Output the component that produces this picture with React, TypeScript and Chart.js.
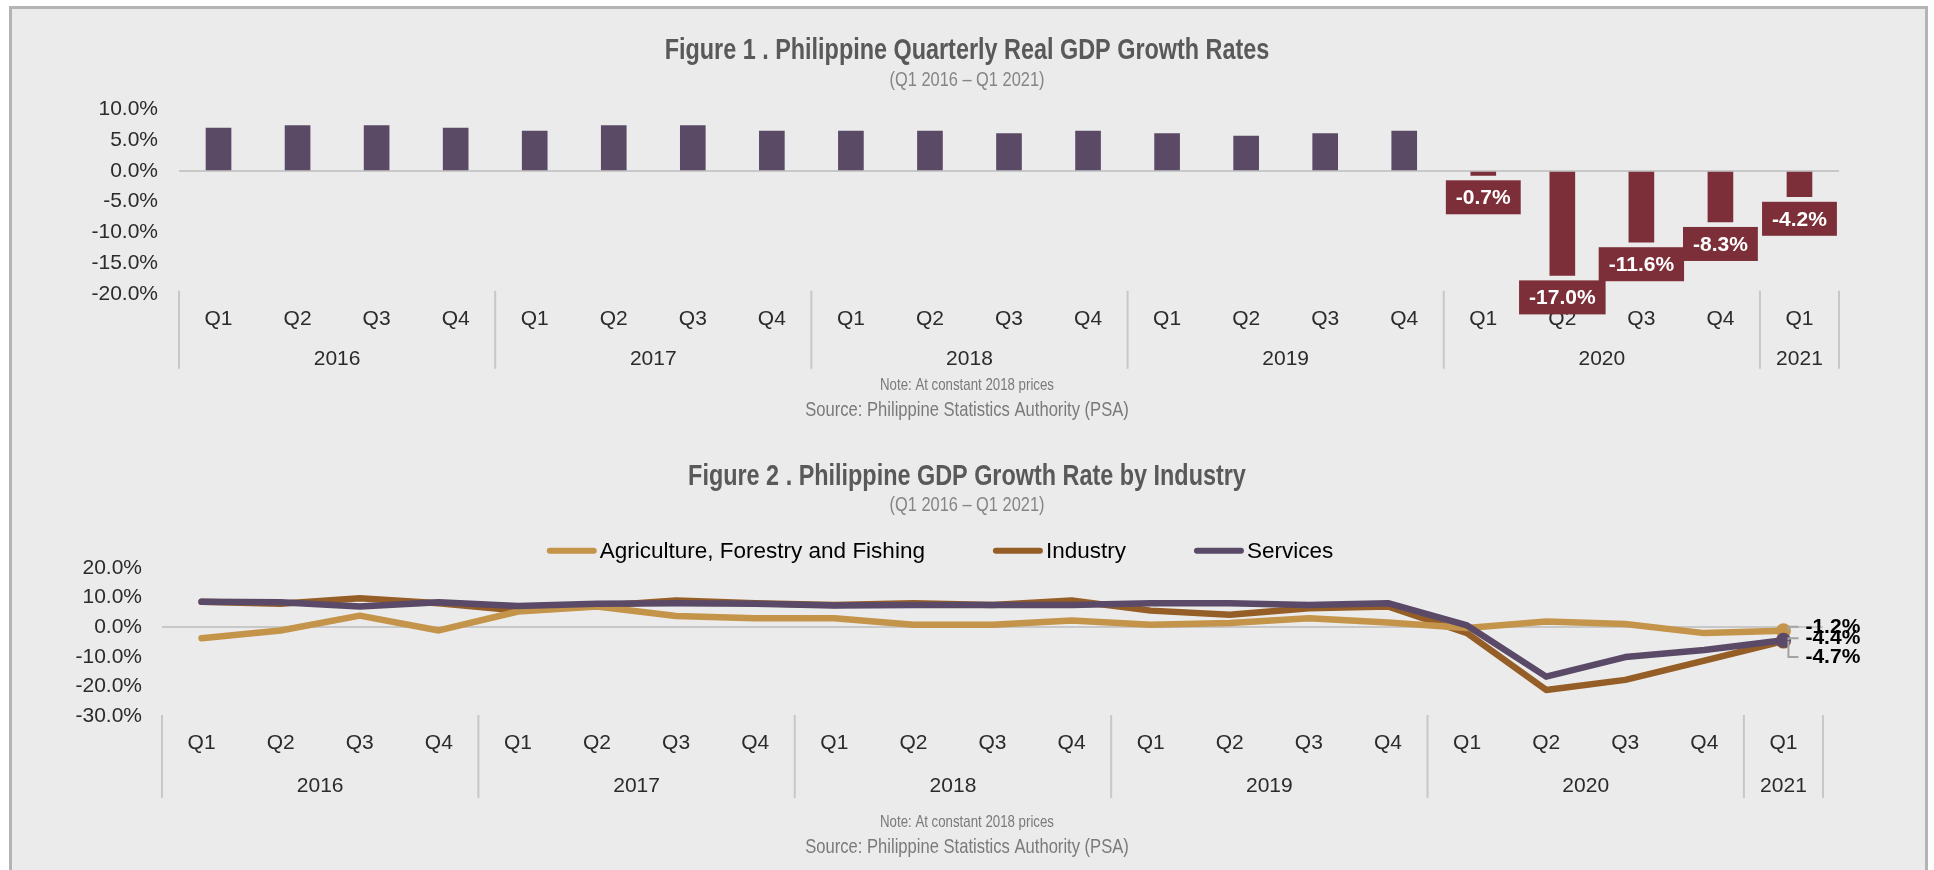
import React, { useEffect, useRef } from 'react';
import { Chart, registerables } from 'chart.js';

Chart.register(...registerables);

// ---------------- DATA ----------------
const quarterLabels = ['Q1', 'Q2', 'Q3', 'Q4', 'Q1', 'Q2', 'Q3', 'Q4', 'Q1', 'Q2', 'Q3', 'Q4', 'Q1', 'Q2', 'Q3', 'Q4', 'Q1', 'Q2', 'Q3', 'Q4', 'Q1'];
const quarterYears = ['2016', '2016', '2016', '2016', '2017', '2017', '2017', '2017', '2018', '2018', '2018', '2018', '2019', '2019', '2019', '2019', '2020', '2020', '2020', '2020', '2021'];

const gdpGrowth = [7.0, 7.4, 7.4, 7.0, 6.5, 7.4, 7.4, 6.5, 6.5, 6.5, 6.1, 6.5, 6.1, 5.7, 6.1, 6.5, -0.7, -17.0, -11.6, -8.3, -4.2];

const agricultureGrowth = [-3.7, -1.1, 3.9, -1.1, 5.3, 7.0, 3.8, 3.0, 3.0, 0.8, 0.8, 2.3, 0.8, 1.4, 3.0, 1.6, -0.3, 1.9, 1.1, -2.0, -1.2];
const industryGrowth = [8.6, 7.9, 9.8, 8.1, 5.6, 7.2, 9.0, 8.1, 7.5, 8.1, 7.5, 9.0, 5.6, 4.2, 6.4, 7.0, -2.0, -21.2, -17.8, -11.3, -4.7];
const servicesGrowth = [8.6, 8.4, 7.0, 8.4, 7.2, 7.9, 8.1, 7.9, 7.3, 7.5, 7.5, 7.5, 8.1, 8.1, 7.5, 8.1, 0.6, -16.7, -10.1, -7.7, -4.4];

const seriesNames = ['Agriculture, Forestry and Fishing', 'Industry', 'Services'];

const gdpAxis = { min: -20, max: 10, step: 5 };
const industryAxis = { min: -30, max: 20, step: 10 };

const fig1Title = 'Figure 1 . Philippine Quarterly Real GDP Growth Rates';
const fig2Title = 'Figure 2 . Philippine GDP Growth Rate by Industry';
const periodText = '(Q1 2016 \u2013 Q1 2021)';
const noteText = 'Note: At constant 2018 prices';
const sourceText = 'Source: Philippine Statistics Authority (PSA)';

// ---------------- STYLE ----------------
const SANS = "'Liberation Sans', Arial, sans-serif";
const POS = '#5a4a66';
const NEG = '#7c2f38';
const TAN = '#c4944a';
const BROWN = '#955e26';
const PURPLE = '#5a4a68';
const AXIS_TEXT = '#2b2b2b';
const GRAY_LINE = '#c8c8c8';
const AXIS_FONT = { family: SANS, size: 21 };

const pct = (v: number) => Number(v).toFixed(1) + '%';

// ---------------- PLUGINS ----------------
// Condensed headings / footnotes (no condensed font installed, so squeeze horizontally)
const textBlockPlugin = {
  id: 'textBlocks',
  afterDraw(chart: any, _args: any, opts: any) {
    const ctx = chart.ctx;
    const cx = chart.width / 2;
    for (const t of opts.items) {
      ctx.save();
      ctx.font = `${t.weight || 'normal'} ${t.size}px ${SANS}`;
      ctx.fillStyle = t.color;
      ctx.textAlign = 'center';
      ctx.textBaseline = 'middle';
      ctx.translate(cx, t.y);
      ctx.scale(t.squeeze, 1);
      ctx.fillText(t.text, 0, 0);
      ctx.restore();
    }
  },
};

const yearGroupPlugin = {
  id: 'yearGroups',
  afterDraw(chart: any, _args: any, opts: any) {
    const x = chart.scales.x;
    const ctx = chart.ctx;
    const years: string[] = opts.years;
    const n = years.length;
    const half = (x.getPixelForValue(1) - x.getPixelForValue(0)) / 2;
    const base = chart.chartArea.bottom;
    ctx.save();
    ctx.strokeStyle = GRAY_LINE;
    ctx.lineWidth = 2;
    ctx.fillStyle = AXIS_TEXT;
    ctx.font = `${AXIS_FONT.size}px ${SANS}`;
    ctx.textAlign = 'center';
    ctx.textBaseline = 'middle';
    const vline = (px: number) => {
      ctx.beginPath();
      ctx.moveTo(px, base + opts.lineTop);
      ctx.lineTo(px, base + opts.lineBottom);
      ctx.stroke();
    };
    let start = 0;
    for (let i = 1; i <= n; i++) {
      if (i === n || years[i] !== years[start]) {
        const left = x.getPixelForValue(start) - half;
        const right = x.getPixelForValue(i - 1) + half;
        vline(left);
        if (i === n) vline(right);
        ctx.fillText(years[start], (left + right) / 2, base + opts.labelOffset);
        start = i;
      }
    }
    ctx.restore();
  },
};

const negLabelPlugin = {
  id: 'negLabels',
  afterDatasetsDraw(chart: any) {
    const ctx = chart.ctx;
    const meta = chart.getDatasetMeta(0);
    const data = chart.data.datasets[0].data as number[];
    ctx.save();
    ctx.font = `bold 21px ${SANS}`;
    ctx.textAlign = 'center';
    ctx.textBaseline = 'middle';
    meta.data.forEach((bar: any, i: number) => {
      const v = data[i];
      if (v >= 0) return;
      const text = pct(v);
      const w = ctx.measureText(text).width + 20;
      const h = 34;
      const top = bar.y + 5;
      ctx.fillStyle = NEG;
      ctx.fillRect(bar.x - w / 2, top, w, h);
      ctx.fillStyle = '#ffffff';
      ctx.fillText(text, bar.x, top + h / 2 + 1);
    });
    ctx.restore();
  },
};

const lineLegendPlugin = {
  id: 'lineLegend',
  afterDraw(chart: any, _args: any, opts: any) {
    const ctx = chart.ctx;
    const items = chart.data.datasets.map((d: any) => ({ label: d.label, color: d.borderColor }));
    ctx.save();
    ctx.font = `22.5px ${SANS}`;
    const sample = 50;
    const gap = 3;
    const itemGap = 68;
    const widths = items.map((it: any) => sample + gap + ctx.measureText(it.label).width);
    const total = widths.reduce((a: number, b: number) => a + b, 0) + itemGap * (items.length - 1);
    let x = opts.centerX - total / 2;
    const y = opts.y;
    items.forEach((it: any, i: number) => {
      ctx.strokeStyle = it.color;
      ctx.lineWidth = 6;
      ctx.lineCap = 'round';
      ctx.beginPath();
      ctx.moveTo(x + 3, y);
      ctx.lineTo(x + sample - 3, y);
      ctx.stroke();
      ctx.fillStyle = '#000000';
      ctx.textAlign = 'left';
      ctx.textBaseline = 'middle';
      ctx.fillText(it.label, x + sample + gap, y + 1);
      x += widths[i] + itemGap;
    });
    ctx.restore();
  },
};

const endLabelPlugin = {
  id: 'endLabels',
  afterDatasetsDraw(chart: any, _args: any, opts: any) {
    const ctx = chart.ctx;
    ctx.save();
    ctx.font = `bold 21px ${SANS}`;
    ctx.textAlign = 'left';
    ctx.textBaseline = 'middle';
    chart.data.datasets.forEach((d: any, di: number) => {
      const meta = chart.getDatasetMeta(di);
      const last = d.data.length - 1;
      const pt = meta.data[last];
      const ly = pt.y + opts.nudge[di];
      ctx.strokeStyle = '#a3a3a3';
      ctx.lineWidth = 2;
      ctx.beginPath();
      ctx.moveTo(pt.x + 5, pt.y);
      ctx.lineTo(pt.x + 5, ly);
      ctx.lineTo(pt.x + 15, ly);
      ctx.stroke();
      ctx.fillStyle = '#000000';
      ctx.fillText(pct(d.data[last]), pt.x + 22, ly);
    });
    ctx.restore();
  },
};

// ---------------- CHARTS ----------------
function useChart(ref: React.RefObject<HTMLCanvasElement>, build: () => any) {
  useEffect(() => {
    if (!ref.current) return;
    const chart = new Chart(ref.current, build());
    return () => chart.destroy();
  }, []);
}

const headingItems = (title: string, titleY: number, subY: number, noteY: number, sourceY: number) => [
  { text: title, y: titleY, size: 30, weight: 'bold', color: '#595959', squeeze: 0.78 },
  { text: periodText, y: subY, size: 20, weight: 'normal', color: '#858585', squeeze: 0.82 },
  { text: noteText, y: noteY, size: 17, weight: 'normal', color: '#7a7a7a', squeeze: 0.78 },
  { text: sourceText, y: sourceY, size: 21, weight: 'normal', color: '#7a7a7a', squeeze: 0.79 },
];

function GdpChart() {
  const ref = useRef<HTMLCanvasElement>(null);
  useChart(ref, () => ({
    type: 'bar',
    data: {
      labels: quarterLabels,
      datasets: [
        {
          label: 'Real GDP growth',
          data: gdpGrowth,
          backgroundColor: gdpGrowth.map((v) => (v < 0 ? NEG : POS)),
          barThickness: 25,
        },
      ],
    },
    options: {
      animation: false,
      responsive: true,
      maintainAspectRatio: false,
      layout: { padding: { left: 0, right: 83, top: 100.6, bottom: 0 } },
      plugins: {
        legend: { display: false },
        tooltip: { enabled: false },
        title: { display: false },
        textBlocks: { items: headingItems(fig1Title, 42.2, 71.5, 376, 401) },
        yearGroups: { years: quarterYears, lineTop: -3, lineBottom: 75, labelOffset: 65.5 },
      },
      scales: {
        x: {
          grid: { display: false, drawTicks: false },
          border: { display: false },
          ticks: { font: AXIS_FONT, color: AXIS_TEXT, padding: 13, autoSkip: false, maxRotation: 0 },
          afterFit: (s: any) => {
            s.height = 145.2;
          },
        },
        y: {
          min: gdpAxis.min,
          max: gdpAxis.max,
          ticks: {
            stepSize: gdpAxis.step,
            callback: (v: any) => pct(v),
            font: AXIS_FONT,
            color: AXIS_TEXT,
            padding: 21,
          },
          grid: {
            drawTicks: false,
            lineWidth: 2,
            color: (c: any) => (c.tick && c.tick.value === 0 ? GRAY_LINE : 'rgba(0,0,0,0)'),
          },
          border: { display: false },
          afterFit: (s: any) => {
            s.width = 167;
          },
        },
      },
    },
    plugins: [textBlockPlugin, yearGroupPlugin, negLabelPlugin],
  }));
  return <canvas ref={ref} />;
}

function IndustryChart() {
  const ref = useRef<HTMLCanvasElement>(null);
  const series = [agricultureGrowth, industryGrowth, servicesGrowth];
  const colors = [TAN, BROWN, PURPLE];
  const orders = [1, 2, 0];
  useChart(ref, () => ({
    type: 'line',
    data: {
      labels: quarterLabels,
      datasets: series.map((s, i) => ({
        label: seriesNames[i],
        data: s,
        borderColor: colors[i],
        backgroundColor: colors[i],
        pointBackgroundColor: colors[i],
        borderWidth: 6.5,
        borderCapStyle: 'round',
        borderJoinStyle: 'round',
        tension: 0,
        order: orders[i],
        pointRadius: (c: any) => (c.dataIndex === s.length - 1 ? 7.5 : 0),
        pointBorderWidth: 0,
        pointHoverRadius: 0,
      })),
    },
    options: {
      animation: false,
      responsive: true,
      maintainAspectRatio: false,
      layout: { padding: { left: 0, right: 99, top: 128, bottom: 0 } },
      plugins: {
        legend: { display: false },
        tooltip: { enabled: false },
        title: { display: false },
        textBlocks: { items: headingItems(fig2Title, 36.7, 65.7, 382, 407) },
        lineLegend: { centerX: 928, y: 110.7 },
        endLabels: { nudge: [-4, 16, -2] },
        yearGroups: { years: quarterYears, lineTop: -1, lineBottom: 82, labelOffset: 70 },
      },
      scales: {
        x: {
          offset: true,
          grid: { display: false, drawTicks: false },
          border: { display: false },
          ticks: { font: AXIS_FONT, color: AXIS_TEXT, padding: 15, autoSkip: false, maxRotation: 0 },
          afterFit: (s: any) => {
            s.height = 154;
          },
        },
        y: {
          min: industryAxis.min,
          max: industryAxis.max,
          ticks: {
            stepSize: industryAxis.step,
            callback: (v: any) => pct(v),
            font: AXIS_FONT,
            color: AXIS_TEXT,
            padding: 20,
          },
          grid: {
            drawTicks: false,
            lineWidth: 2,
            color: (c: any) => (c.tick && c.tick.value === 0 ? GRAY_LINE : 'rgba(0,0,0,0)'),
          },
          border: { display: false },
          afterFit: (s: any) => {
            s.width = 150;
          },
        },
      },
    },
    plugins: [textBlockPlugin, yearGroupPlugin, lineLegendPlugin, endLabelPlugin],
  }));
  return <canvas ref={ref} />;
}

export default function App() {
  return (
    <div style={{ position: 'fixed', left: 0, top: 0, width: 1934, height: 870, background: '#ffffff', overflow: 'hidden' }}>
      <div
        style={{
          position: 'absolute',
          left: 9,
          top: 6,
          width: 1919,
          height: 900,
          boxSizing: 'border-box',
          border: '3px solid #b4b4b4',
          background: '#ebebeb',
        }}
      />
      <div style={{ position: 'absolute', left: 12, top: 9, width: 1910, height: 430 }}>
        <GdpChart />
      </div>
      <div style={{ position: 'absolute', left: 12, top: 440, width: 1910, height: 430 }}>
        <IndustryChart />
      </div>
    </div>
  );
}
